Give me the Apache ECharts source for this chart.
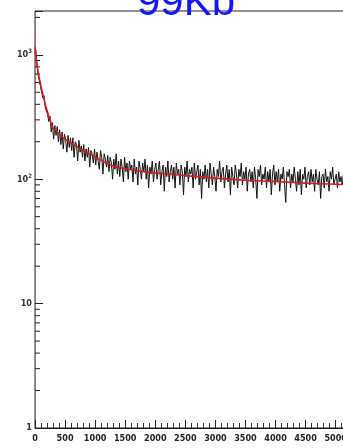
<!DOCTYPE html>
<html>
<head>
<meta charset="utf-8">
<script src="https://cdn.jsdelivr.net/npm/echarts@6/dist/echarts.min.js"></script>
<style>
  html, body { margin: 0; padding: 0; background: #fff; overflow: hidden; }
  #chart { width: 380px; height: 448px; }
</style>
</head>
<body>
<div id="chart"></div>
<script>
// histogram bins, width 20, counts
const binWidth = 20;
const counts = [
  1120, 880, 700, 680, 560, 545, 450, 470, 380, 385,
  330, 290, 320, 240, 285, 210, 270, 225, 265, 200,
  250, 190, 240, 175, 230, 205, 165, 225, 180, 215,
  170, 215, 150, 200, 190, 140, 205, 165, 185, 150,
  190, 140, 175, 150, 180, 125, 170, 160, 135, 175,
  130, 165, 140, 120, 170, 150, 110, 160, 145, 125,
  155, 115, 150, 135, 100, 145, 120, 160, 110, 140,
  105, 145, 125, 95, 150, 115, 135, 100, 140, 120,
  130, 95, 145, 110, 125, 90, 140, 120, 100, 135,
  115, 145, 100, 130, 85, 125, 110, 140, 95, 120,
  135, 100, 120, 140, 90, 115, 130, 80, 125, 105,
  140, 95, 115, 130, 100, 125, 85, 135, 110, 120,
  90, 130, 115, 75, 125, 105, 140, 95, 120, 110,
  125, 85, 135, 100, 115, 130, 90, 120, 70, 115,
  100, 130, 95, 120, 85, 135, 110, 90, 125, 105,
  80, 120, 105, 140, 95, 115, 125, 85, 110, 130,
  95, 120, 75, 125, 105, 90, 130, 110, 85, 120,
  105, 135, 90, 115, 100, 125, 80, 110, 120, 95,
  115, 85, 125, 100, 70, 120, 105, 130, 90, 110,
  100, 125, 85, 115, 95, 120, 75, 110, 130, 90,
  115, 95, 120, 80, 110, 100, 125, 90, 65, 115,
  105, 120, 85, 110, 95, 125, 100, 80, 115, 90,
  120, 75, 110, 100, 125, 85, 105, 115, 90, 120,
  95, 110, 80, 120, 100, 90, 115, 70, 105, 110,
  85, 120, 95, 105, 80, 115, 100, 125, 90, 100,
  110, 85, 115, 95, 105, 90, 110, 100, 95, 105
];

// fitted curve
const fitX = [0, 10, 30, 50, 70, 90, 110, 130, 150, 170, 190, 210, 230, 250, 270, 290,
  350, 450, 600, 800, 1000, 1200, 1400, 1800, 2400, 3000, 3500, 4000, 4500, 5000, 5500];
const fitY = [1150, 1050, 850, 740, 650, 590, 530, 480, 440, 400, 370, 345, 320, 300, 280, 262,
  245, 218, 196, 170, 151, 134, 124, 115, 108, 102, 98, 96, 93, 91, 89];

const yMinorTicks = [2, 3, 4, 5, 6, 7, 8, 9, 20, 30, 40, 50, 60, 70, 80, 90,
  200, 300, 400, 500, 600, 700, 800, 900, 2000];
const yLabels = { 1: '1', 10: '10', 100: '10{sup|2}', 1000: '10{sup|3}' };

const histData = counts.map((c, i) => [i * binWidth + binWidth / 2, c]);
const fitData = fitX.map((x, i) => [x, fitY[i]]);

const chart = echarts.init(document.getElementById('chart'));
const labelFont = '"DejaVu Sans Condensed", "Liberation Sans Narrow", "Liberation Sans", sans-serif';

chart.setOption({
  animation: false,
  backgroundColor: '#fff',
  grid: {
    left: 35, top: 11, width: 341, bottom: 20,
    show: true, borderColor: '#222', borderWidth: 1
  },
  graphic: [{
    type: 'text', x: 186, y: 24, z: 100,
    style: {
      text: '99Kb', fill: '#1414ff', font: '42px "Liberation Sans"',
      align: 'center', verticalAlign: 'bottom'
    }
  }],
  xAxis: {
    type: 'value', min: 0, max: 5500, interval: 500,
    axisLine: { lineStyle: { color: '#111', width: 1 } },
    axisTick: { inside: true, length: 8, lineStyle: { color: '#222' } },
    minorTick: { show: true, splitNumber: 5, length: 5, lineStyle: { color: '#333' } },
    splitLine: { show: false },
    axisLabel: {
      margin: 6, fontFamily: labelFont, fontWeight: 'bold', fontSize: 9, color: '#222',
      formatter: v => String(v)
    }
  },
  yAxis: {
    type: 'log', logBase: 10, min: 1, max: 2250,
    axisLine: { lineStyle: { color: '#9a7474', width: 1 } },
    axisTick: { inside: true, length: 8, lineStyle: { color: '#222' } },
    splitLine: { show: false },
    axisLabel: {
      margin: 3, fontFamily: labelFont, fontWeight: 'bold', fontSize: 9, color: '#333',
      formatter: v => yLabels[Math.round(v)] || '',
      rich: { sup: { fontSize: 6, fontFamily: labelFont, verticalAlign: 'top', padding: [0, 0, 6, 0] } }
    }
  },
  series: [
    {
      type: 'custom', silent: true, z: 3,
      data: yMinorTicks.map(v => [1, v]),
      renderItem: (params, api) => {
        const p = api.coord([0, api.value(1)]);
        return {
          type: 'line',
          shape: { x1: p[0], y1: p[1], x2: p[0] + 5, y2: p[1] },
          style: { stroke: '#222', lineWidth: 1 }
        };
      }
    },
    {
      type: 'line', data: histData, showSymbol: false, z: 4,
      lineStyle: { color: '#111', width: 1 }
    },
    {
      type: 'line', data: fitData, showSymbol: false, smooth: 0.3, z: 5,
      lineStyle: { color: '#d01c24', width: 1.6 }
    }
  ]
});
</script>
</body>
</html>
